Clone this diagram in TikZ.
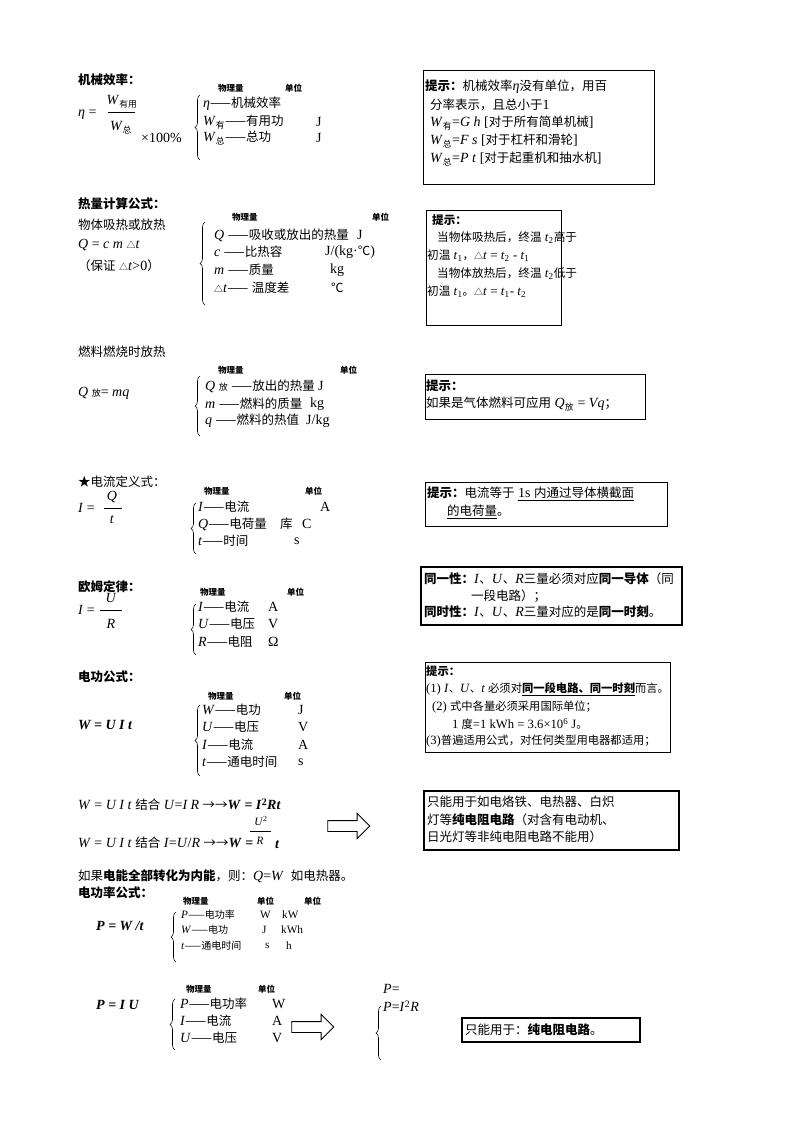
\documentclass[tikz,border=0pt]{standalone}
\usepackage{fontspec}
\setmainfont{Liberation Serif}[Scale=1.12]
\newfontfamily\cjk{Noto Sans CJK SC}
\usetikzlibrary{decorations.pathreplacing,shapes.arrows}
\XeTeXinterchartokenstate=1
\newXeTeXintercharclass\CJKc
\newcount\cc
\def\setrange#1#2{\cc=#1\relax\loop\XeTeXcharclass\cc=\CJKc\ifnum\cc<#2\advance\cc by 1\repeat}
\setrange{"4E00}{"9FFF}\setrange{"3000}{"303F}\setrange{"FF00}{"FFEF}
\XeTeXcharclass"2014=\CJKc \XeTeXcharclass"2103=\CJKc \XeTeXcharclass"2605=\CJKc
\XeTeXcharclass"25B3=\CJKc \XeTeXcharclass"2192=\CJKc
\XeTeXinterchartoks 0 \CJKc={\cjk}
\XeTeXinterchartoks 4095 \CJKc={\cjk}
\XeTeXinterchartoks \CJKc 0={\rmfamily}
\XeTeXinterchartoks \CJKc 4095={\rmfamily}
\newcommand\I[1]{\textit{#1}}
\newcommand\lo[1]{\textsubscript{#1}}
\newcommand\bd{\fontsize{12.5}{15}\selectfont}
\newcommand\sm{\fontsize{10}{12}\selectfont}
\tikzset{
 tx/.style={anchor=west,inner sep=0},
 hd/.style={anchor=west,inner sep=0,font=\fontsize{8.5}{10}\selectfont\bfseries},
 bx/.style={draw,line width=0.8pt},
 tbx/.style={draw,line width=2.4pt},
 br/.style={decorate,decoration={brace,amplitude=5pt,mirror},line width=0.6pt},
 harrow/.style={single arrow,draw,line width=0.9pt,minimum width=22pt,inner xsep=0pt,inner ysep=5pt,minimum height=42pt}
}
\begin{document}
\begin{tikzpicture}[x=1pt,y=-1pt,font=\bd]
\useasboundingbox[fill=white] (0,0) rectangle (800,1132);
% ---------- section 1
\node[tx] (s1) at (78,80) {\bfseries 机械效率：};
\node[tx] (eta) at (78,115) {\I{η} =};
\node (n1) at (122,102) {\I{W}\lo{有用}};
\draw (108,112)--(135,112);
\node (d1) at (121,128) {\I{W}\lo{总}};
\node[tx] (p1) at (141,138) {×100\%};
\node[hd] (h1a) at (218,88) {物理量};
\node[hd] (h1b) at (285,88) {单位};
\draw[br] (200,95)--(200,160);
\node[tx] (r1a) at (203,104) {\I{η}——机械效率};
\node[tx] (r1b) at (203,122) {\I{W}\lo{有}——有用功};
\node[tx] (r1c) at (203,138) {\I{W}\lo{总}——总功};
\node[tx] (u1b) at (316,122) {J};
\node[tx] (u1c) at (316,138) {J};
\draw[bx] (423,70) rectangle (654,184);
\node[tx] (b1a) at (425,87) {{\bfseries 提示：}机械效率\I{η}没有单位，用百};
\node[tx] (b1b) at (430,105) {分率表示，且总小于1};
\node[tx] (b1c) at (430,123) {\I{W}\lo{有}=\I{G h} [对于所有简单机械]};
\node[tx] (b1d) at (430,141) {\I{W}\lo{总}=\I{F s} [对于杠杆和滑轮]};
\node[tx] (b1e) at (430,159) {\I{W}\lo{总}=\I{P t} [对于起重机和抽水机]};
% ---------- section 2
\node[tx] (s2) at (78,204) {\bfseries 热量计算公式：};
\node[tx] (s2a) at (78,225) {物体吸热或放热};
\node[tx] (s2b) at (78,245) {\I{Q} = \I{c m} {\small △}\I{t}};
\node[tx] (s2c) at (78,266) {（保证 {\small △}\I{t}>0）};
\node[hd] (h2a) at (232,217) {物理量};
\node[hd] (h2b) at (372,217) {单位};
\draw[br] (205,222)--(205,305);
\node[tx] (r2a) at (214,235) {\I{Q} ——吸收或放出的热量};
\node[tx] (r2b) at (214,252) {\I{c} ——比热容};
\node[tx] (r2c) at (214,270) {\I{m} ——质量};
\node[tx] (r2d) at (214,288) {{\small △}\I{t}—— 温度差};
\node[tx] (u2a) at (357,235) {J};
\node[tx] (u2b) at (325,252) {J/(kg·℃)};
\node[tx] (u2c) at (330,270) {kg};
\node[tx] (u2d) at (331,288) {℃};
\draw[bx] (426,210) rectangle (561,325);
\begin{scope}[font=\fontsize{11.6}{14}\selectfont]
\node[tx] (b2a) at (432,220) {\bfseries 提示：};
\node[tx] (b2b) at (437,238) {当物体吸热后，终温 \I{t}\lo{2}高于};
\node[tx] (b2c) at (427,256) {初温 \I{t}\lo{1}，{\small △}\I{t} = \I{t}\lo{2} - \I{t}\lo{1}};
\node[tx] (b2d) at (437,274) {当物体放热后，终温 \I{t}\lo{2}低于};
\node[tx] (b2e) at (427,292) {初温 \I{t}\lo{1}。{\small △}\I{t} = \I{t}\lo{1}- \I{t}\lo{2}};
\end{scope}
% ---------- section 3
\node[tx] (s3) at (78,352) {燃料燃烧时放热};
\node[tx] (s3a) at (78,393) {\I{Q} {\small 放}= \I{mq}};
\node[hd] (h3a) at (218,370) {物理量};
\node[hd] (h3b) at (340,370) {单位};
\draw[br] (200,376)--(200,436);
\node[tx] (r3a) at (205,386) {\I{Q} {\small 放} ——放出的热量};
\node[tx] (r3b) at (205,404) {\I{m} ——燃料的质量};
\node[tx] (r3c) at (205,421) {\I{q} ——燃料的热值};
\node[tx] (u3a) at (318,386) {J};
\node[tx] (u3b) at (310,404) {kg};
\node[tx] (u3c) at (306,421) {J/kg};
\draw[bx] (425,374) rectangle (645,419);
\node[tx] (b3a) at (426,386) {\bfseries 提示：};
\node[tx] (b3b) at (426,404) {如果是气体燃料可应用 \I{Q}\lo{放} = \I{Vq}；};
% ---------- section 4
\node[tx] (s4) at (78,482) {★电流定义式：};
\node[tx] (i4) at (78,508) {\I{I} =};
\node (n4) at (112,497) {\I{Q}};
\draw (104,508)--(122,508);
\node (d4) at (112,520) {\I{t}};
\node[hd] (h4a) at (204,491) {物理量};
\node[hd] (h4b) at (305,491) {单位};
\draw[br] (196,503)--(196,554);
\node[tx] (r4a) at (198,507) {\I{I}——电流};
\node[tx] (r4b) at (198,524) {\I{Q}——电荷量};
\node[tx] (r4c) at (198,541) {\I{t}——时间};
\node[tx] (u4a) at (320,507) {A};
\node[tx] (u4b) at (280,524) {库};
\node[tx] (u4b2) at (302,524) {C};
\node[tx] (u4c) at (294,541) {s};
\draw[bx] (425,482) rectangle (667,526);
\node[tx] (b4a) at (427,494) {{\bfseries 提示：}电流等于 \underline{1s 内通过导体横截面}};
\node[tx] (b4b) at (447,512) {\underline{的电荷量}。};
% ---------- section 5
\node[tx] (s5) at (78,587) {\bfseries 欧姆定律：};
\node[tx] (i5) at (78,610) {\I{I} =};
\node (n5) at (111,598) {\I{U}};
\draw (100,610)--(122,610);
\node (d5) at (111,624) {\I{R}};
\node[hd] (h5a) at (200,592) {物理量};
\node[hd] (h5b) at (287,592) {单位};
\draw[br] (196,604)--(196,655);
\node[tx] (r5a) at (198,607) {\I{I}——电流};
\node[tx] (r5b) at (198,624) {\I{U}——电压};
\node[tx] (r5c) at (198,642) {\I{R}——电阻};
\node[tx] (u5a) at (268,607) {A};
\node[tx] (u5b) at (268,624) {V};
\node[tx] (u5c) at (268,642) {Ω};
\draw[tbx] (421,567) rectangle (682,625);
\node[tx] (b5a) at (424,579) {{\bfseries 同一性：}\I{I}、\I{U}、\I{R}三量必须对应{\bfseries 同一导体}（同};
\node[tx] (b5b) at (471,596) {一段电路）；};
\node[tx] (b5c) at (424,612) {{\bfseries 同时性：}\I{I}、\I{U}、\I{R}三量对应的是{\bfseries 同一时刻}。};
% ---------- section 6
\node[tx] (s6) at (78,677) {\bfseries 电功公式：};
\node[tx] (w6) at (78,725) {\bfseries\I{W = U I t}};
\node[hd] (h6a) at (208,696) {物理量};
\node[hd] (h6b) at (284,696) {单位};
\draw[br] (200,705)--(200,776);
\node[tx] (r6a) at (202,710) {\I{W}——电功};
\node[tx] (r6b) at (202,727) {\I{U}——电压};
\node[tx] (r6c) at (202,745) {\I{I}——电流};
\node[tx] (r6d) at (202,762) {\I{t}——通电时间};
\node[tx] (u6a) at (298,710) {J};
\node[tx] (u6b) at (298,727) {V};
\node[tx] (u6c) at (298,745) {A};
\node[tx] (u6d) at (298,762) {s};
\draw[bx] (425,662) rectangle (670,752);
\begin{scope}[font=\fontsize{11.3}{14}\selectfont]
\node[tx] (b6a) at (426,671) {\bfseries 提示：};
\node[tx] (b6b) at (426,689) {(1) \I{I}、\I{U}、\I{t} 必须对\underline{\bfseries 同一段电路、同一时刻}而言。};
\node[tx] (b6c) at (432,707) {(2) 式中各量必须采用国际单位；};
\node[tx] (b6d) at (452,724) {1 度=1 kWh = 3.6×10\textsuperscript{6} J。};
\node[tx] (b6e) at (426,741) {(3)普遍适用公式，对任何类型用电器都适用；};
\end{scope}
% ---------- section 7
\node[tx] (e7a) at (78,805) {\I{W} = \I{U I t} 结合 \I{U}=\I{I R} →→\textbf{\I{W} = \I{I}\textsuperscript{2}\I{Rt}}};
\node[tx] (e7b) at (78,843) {\I{W} = \I{U I t} 结合 \I{I}=\I{U}/\I{R} →→\textbf{\I{W} =}};
\node (n7) at (261,821) {\sm\I{U}\textsuperscript{2}};
\draw (250,831)--(271,831);
\node (d7) at (260,841) {\sm\I{R}};
\node[tx] (t7) at (275,845) {\bfseries\I{t}};
\node[harrow] (a7) at (346,826) {};
\draw[tbx] (424,791) rectangle (679,850);
\node[tx] (b7a) at (427,802) {只能用于如电烙铁、电热器、白炽};
\node[tx] (b7b) at (427,820) {灯等{\bfseries 纯电阻电路}（对含有电动机、};
\node[tx] (b7c) at (427,837) {日光灯等非纯电阻电路不能用）};
\node[tx] (s7) at (78,876) {如果{\bfseries 电能全部转化为内能}，则：\I{Q}=\I{W}\ \ 如电热器。};
\node[tx] (s8) at (78,893) {\bfseries 电功率公式：};
\node[hd] (h8a) at (183,901) {物理量};
\node[hd] (h8b) at (257,901) {单位};
\node[hd] (h8c) at (304,901) {单位};
\node[tx] (p8) at (96,926) {\bfseries\I{P = W /t}};
\draw[br] (176,912)--(176,962);
\node[tx,font=\sm] (r8a) at (181,915) {\I{P}——电功率};
\node[tx,font=\sm] (r8b) at (181,930) {\I{W}——电功};
\node[tx,font=\sm] (r8c) at (181,946) {\I{t}——通电时间};
\node[tx,font=\sm] (u8a) at (260,915) {W};
\node[tx,font=\sm] (u8b) at (262,930) {J};
\node[tx,font=\sm] (u8c) at (265,946) {s};
\node[tx,font=\sm] (v8a) at (282,915) {kW};
\node[tx,font=\sm] (v8b) at (281,930) {kWh};
\node[tx,font=\sm] (v8c) at (286,946) {h};
\node[hd] (h9a) at (186,989) {物理量};
\node[hd] (h9b) at (258,989) {单位};
\node[tx] (p9) at (96,1005) {\bfseries\I{P = I U}};
\draw[br] (175,999)--(175,1050);
\node[tx] (r9a) at (180,1004) {\I{P}——电功率};
\node[tx] (r9b) at (180,1021) {\I{I}——电流};
\node[tx] (r9c) at (180,1038) {\I{U}——电压};
\node[tx] (u9a) at (272,1004) {W};
\node[tx] (u9b) at (272,1021) {A};
\node[tx] (u9c) at (272,1038) {V};
\node[harrow] (a9) at (310,1027) {};
\draw[br] (381,1006)--(381,1060);
\node[tx] (q9a) at (383,989) {\I{P}=};
\node[tx] (q9b) at (383,1006) {\I{P}=\I{I}\textsuperscript{2}\I{R}};
\draw[tbx] (462,1018) rectangle (640,1042);
\node[tx] (b9) at (465,1030) {只能用于：{\bfseries 纯电阻电路}。};
\end{tikzpicture}
\end{document}
